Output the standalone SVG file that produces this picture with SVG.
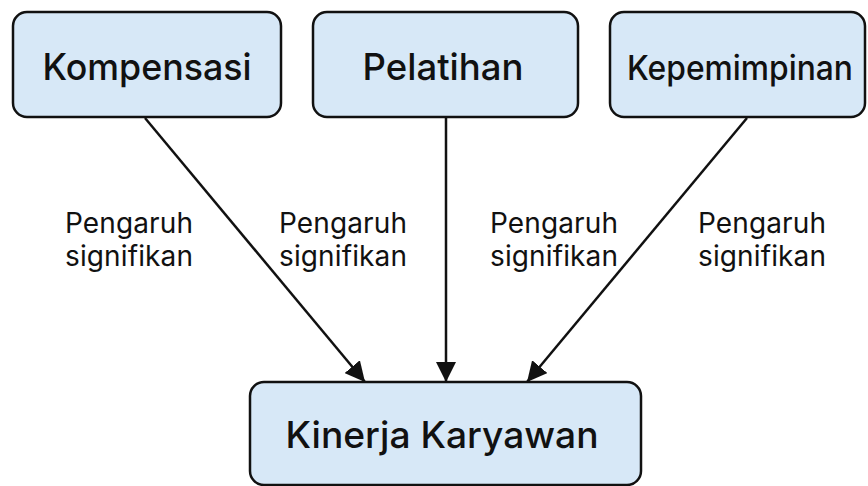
<svg xmlns="http://www.w3.org/2000/svg" width="868" height="486" viewBox="0 0 868 486">
<style>
.box{fill:#d7e8f7;stroke:#111;stroke-width:2.5}
.t{font-family:Inter,"Liberation Sans",sans-serif;fill:#111;text-anchor:middle}
.big{font-size:37px;font-weight:500}
.lbl{font-size:28px}
.c{stroke:#111;stroke-width:2.5;fill:none;marker-end:url(#ah)}
</style>
<defs>
<marker id="ah" viewBox="0 0 10 10" refX="10" refY="5" markerWidth="8" markerHeight="8" markerUnits="strokeWidth" orient="auto">
<path d="M0,0 L10,5 L0,10 Z" fill="#111"/>
</marker>
</defs>
<rect width="868" height="486" fill="#fff"/>
<g id="connectors">
<line class="c" x1="145" y1="118" x2="365" y2="382"/>
<line class="c" x1="446" y1="118" x2="446" y2="382"/>
<line class="c" x1="747" y1="118" x2="527" y2="382"/>
</g>
<g id="node-kompensasi">
<rect class="box" x="13" y="12" width="268" height="105" rx="14"/>
<text class="t big" x="147" y="80" textLength="209" lengthAdjust="spacingAndGlyphs">Kompensasi</text>
</g>
<g id="node-pelatihan">
<rect class="box" x="313" y="12" width="265" height="105" rx="14"/>
<text class="t big" x="443" y="80" textLength="161" lengthAdjust="spacingAndGlyphs">Pelatihan</text>
</g>
<g id="node-kepemimpinan">
<rect class="box" x="610" y="12" width="255" height="105" rx="14"/>
<text class="t big" x="740" y="80" style="font-size:34px" textLength="226" lengthAdjust="spacingAndGlyphs">Kepemimpinan</text>
</g>
<g id="node-kinerja">
<rect class="box" x="250" y="382" width="391" height="103" rx="14"/>
<text class="t big" x="442" y="448" textLength="313" lengthAdjust="spacingAndGlyphs">Kinerja Karyawan</text>
</g>
<g id="labels">
<text class="t lbl" x="129" y="233" textLength="128">Pengaruh</text>
<text class="t lbl" x="129" y="266" textLength="128">signifikan</text>
<text class="t lbl" x="343" y="233" textLength="128">Pengaruh</text>
<text class="t lbl" x="343" y="266" textLength="128">signifikan</text>
<text class="t lbl" x="554" y="233" textLength="128">Pengaruh</text>
<text class="t lbl" x="554" y="266" textLength="128">signifikan</text>
<text class="t lbl" x="762" y="233" textLength="128">Pengaruh</text>
<text class="t lbl" x="762" y="266" textLength="128">signifikan</text>
</g>
</svg>
